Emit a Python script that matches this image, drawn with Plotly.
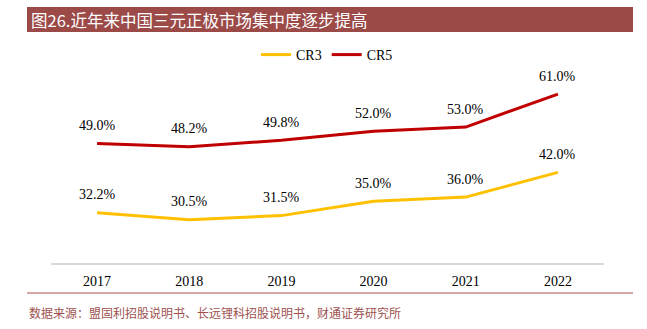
import plotly.graph_objects as go

years = ["2017", "2018", "2019", "2020", "2021", "2022"]
cr3 = [32.2, 30.5, 31.5, 35.0, 36.0, 42.0]
cr5 = [49.0, 48.2, 49.8, 52.0, 53.0, 61.0]
title_text = "图26.近年来中国三元正极市场集中度逐步提高"
source_text = "数据来源：盟固利招股说明书、长远锂科招股说明书，财通证券研究所"

W, H = 647, 329
L, R, T, B = 51, 43, 57, 66
pw, ph = W - L - R, H - T - B

def px(x):
    return (x - L) / pw

def py(y):
    return 1 - (y - T) / ph

fig = go.Figure()
fig.add_trace(go.Scatter(x=years, y=cr3, mode="lines", name="CR3",
                         line=dict(color="#FFC000", width=3)))
fig.add_trace(go.Scatter(x=years, y=cr5, mode="lines", name="CR5",
                         line=dict(color="#C00000", width=3)))

annotations = []
for series in (cr3, cr5):
    for i, yv in enumerate(series):
        annotations.append(dict(x=i, y=yv, xref="x", yref="y", text=f"{yv:.1f}%",
                                showarrow=False, yshift=18,
                                font=dict(family="Liberation Serif", size=14, color="#000000")))

annotations.append(dict(x=px(29), y=py(20), xref="paper", yref="paper", text=title_text,
                        showarrow=False, xanchor="left", yanchor="middle",
                        font=dict(family="Noto Sans CJK SC", size=16.5, color="#FFFFFF")))
annotations.append(dict(x=px(27), y=py(312), xref="paper", yref="paper", text=source_text,
                        showarrow=False, xanchor="left", yanchor="middle",
                        font=dict(family="Noto Sans CJK SC", size=12, color="#A0524F")))

shapes = [
    dict(type="rect", xref="paper", yref="paper", x0=px(27), x1=px(633), y0=py(32), y1=py(7),
         fillcolor="#9B4A48", line=dict(width=0), layer="below"),
    dict(type="line", xref="paper", yref="paper", x0=px(27), x1=px(633), y0=py(293), y1=py(293),
         line=dict(color="#C48A88", width=1.5)),
]

fig.update_layout(
    width=W, height=H,
    margin=dict(l=L, r=R, t=T, b=B),
    paper_bgcolor="#FFFFFF", plot_bgcolor="#FFFFFF",
    showlegend=True,
    legend=dict(orientation="h", x=px(327), xanchor="center", y=py(55), yanchor="middle",
                font=dict(family="Liberation Serif", size=14, color="#000000"),
                bgcolor="rgba(0,0,0,0)"),
    xaxis=dict(type="category", range=[-0.5, 5.5], showgrid=False, zeroline=False,
               showline=True, linecolor="#D9D9D9", linewidth=1.5, ticks="",
               ticklabelstandoff=4,
               tickfont=dict(family="Liberation Serif", size=14, color="#000000")),
    yaxis=dict(range=[20, 70], visible=False, showgrid=False),
    annotations=annotations,
    shapes=shapes,
)

fig.write_html("out.html")
